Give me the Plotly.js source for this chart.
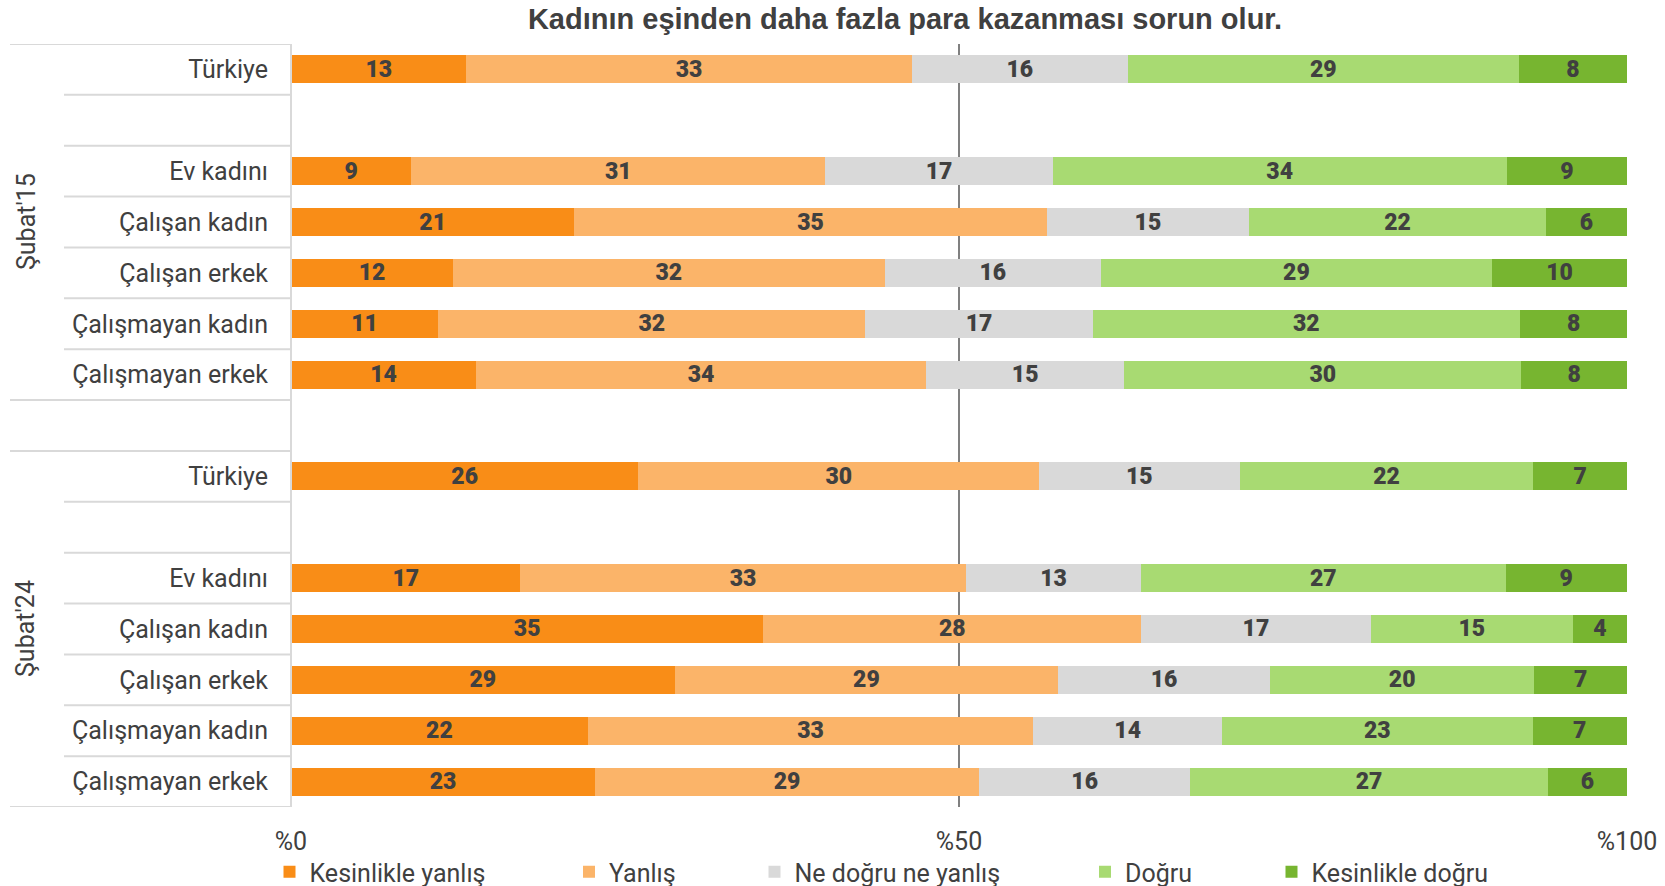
<!DOCTYPE html>
<html>
<head>
<meta charset="utf-8">
<script src="https://cdn.plot.ly/plotly-3.0.1.min.js"></script>
<style>html,body{margin:0;padding:0;background:#fff;}#chart{width:1665px;height:886px;}</style>
</head>
<body>
<div id="chart"></div>
<script>
// ---- data ----
const titleText = "Kadının eşinden daha fazla para kazanması sorun olur.";
const rowLabels = ["Türkiye", "", "Ev kadını", "Çalışan kadın", "Çalışan erkek", "Çalışmayan kadın", "Çalışmayan erkek",
                   "",
                   "Türkiye", "", "Ev kadını", "Çalışan kadın", "Çalışan erkek", "Çalışmayan kadın", "Çalışmayan erkek"];
const groupLabels = ["Şubat'15", "Şubat'24"];
const groupRows = [[0, 6], [8, 14]];
const seriesNames = ["Kesinlikle yanlış", "Yanlış", "Ne doğru ne yanlış", "Doğru", "Kesinlikle doğru"];
const kesinlikleYanlis = [13, null, 9, 21, 12, 11, 14, null, 26, null, 17, 35, 29, 22, 23];
const yanlis           = [33, null, 31, 35, 32, 32, 34, null, 30, null, 33, 28, 29, 33, 29];
const neDogruNeYanlis  = [16, null, 17, 15, 16, 17, 15, null, 15, null, 13, 17, 16, 14, 16];
const dogru            = [29, null, 34, 22, 29, 32, 30, null, 22, null, 27, 15, 20, 23, 27];
const kesinlikleDogru  = [8, null, 9, 6, 10, 8, 8, null, 7, null, 9, 4, 7, 7, 6];
const xTickVals = [0, 50, 100];
const xTickText = ["%0", "%50", "%100"];

// ---- styles ----
const colors = ["#F98D17", "#FBB469", "#D9D9D9", "#A8DA72", "#77B530"];
const legendX = [269.5, 569, 754.5, 1085, 1271.5];
const txtColor = "#404040";
const allSeries = [kesinlikleYanlis, yanlis, neDogruNeYanlis, dogru, kesinlikleDogru];
const yIdx = rowLabels.map((_, i) => i);
const legendIds = ["legend", "legend2", "legend3", "legend4", "legend5"];

const traces = allSeries.map((vals, k) => ({
  type: "bar",
  orientation: "h",
  name: seriesNames[k],
  legend: legendIds[k],
  y: yIdx,
  x: vals,
  text: vals.map(v => v == null ? "" : String(v)),
  textposition: "inside",
  insidetextanchor: "middle",
  textangle: 0,
  constraintext: "none",
  textfont: {family: "Roboto, 'Liberation Sans', sans-serif", size: 23, color: txtColor, weight: 900},
  marker: {color: colors[k], line: {width: 0}},
  width: 0.55,
  hoverinfo: "skip"
}));

// table lines on the left (decoration)
const plotL = 291, plotR = 1627, plotT = 44, plotB = 807;
const pw = plotR - plotL;
const shortX0 = (64 - plotL) / pw;
const longX0 = (10 - plotL) / pw;
const lineStyle = {color: "#D9D9D9", width: 2};
const shapes = [];
const longLines = new Set([-0.5, 6.5, 7.5, 14.5]);
for (let i = 0; i <= rowLabels.length; i++) {
  const yv = i - 0.5;
  shapes.push({type: "line", xref: "paper", yref: "y", x0: longLines.has(yv) ? longX0 : shortX0, x1: 0, y0: yv, y1: yv, line: lineStyle, layer: "below"});
}
shapes.push({type: "line", xref: "paper", yref: "y", x0: 0, x1: 0, y0: -0.5, y1: 14.5, line: lineStyle, layer: "above"});

const annotations = groupLabels.map((g, i) => ({
  text: g, xref: "paper", yref: "y",
  x: (26 - plotL) / pw, y: (groupRows[i][0] + groupRows[i][1]) / 2,
  textangle: -90, showarrow: false, xanchor: "center", yanchor: "middle",
  font: {family: "Roboto, sans-serif", size: 25, color: txtColor}
}));

const layout = {
  width: 1665, height: 886,
  paper_bgcolor: "#fff", plot_bgcolor: "#fff",
  margin: {l: plotL, r: 1665 - plotR, t: plotT, b: 886 - plotB, autoexpand: false},
  barmode: "stack",
  barnorm: "percent",
  title: {text: "<b>" + titleText + "</b>", x: 905 / 1665, xanchor: "center", y: 1 - 19 / 886, yanchor: "middle",
          font: {family: "'Liberation Sans', Arial, sans-serif", size: 29, color: txtColor}},
  xaxis: {range: [0, 100], tickvals: xTickVals, ticktext: xTickText, showgrid: true, gridcolor: "#808080", gridwidth: 1.5,
          zeroline: false, showline: false, ticks: "", ticklabelstandoff: 17, fixedrange: true, automargin: false,
          tickfont: {family: "Roboto, sans-serif", size: 25, color: txtColor}},
  yaxis: {range: [14.5, -0.5], tickvals: yIdx, ticktext: rowLabels, showgrid: false, zeroline: false, showline: false,
          ticks: "", ticklabelstandoff: 22, fixedrange: true, automargin: false,
          tickfont: {family: "Roboto, sans-serif", size: 25, color: txtColor}},
  shapes: shapes,
  annotations: annotations,
  showlegend: true
};
legendIds.forEach((id, k) => {
  layout[id] = {orientation: "h", xref: "container", yref: "container", x: legendX[k] / 1665, xanchor: "left",
                y: 1 - 872 / 886, yanchor: "middle", bgcolor: "rgba(0,0,0,0)",
                font: {family: "Roboto, sans-serif", size: 25, color: txtColor}, itemwidth: 30};
});

Plotly.newPlot("chart", traces, layout, {displayModeBar: false, staticPlot: true});
</script>
</body>
</html>
